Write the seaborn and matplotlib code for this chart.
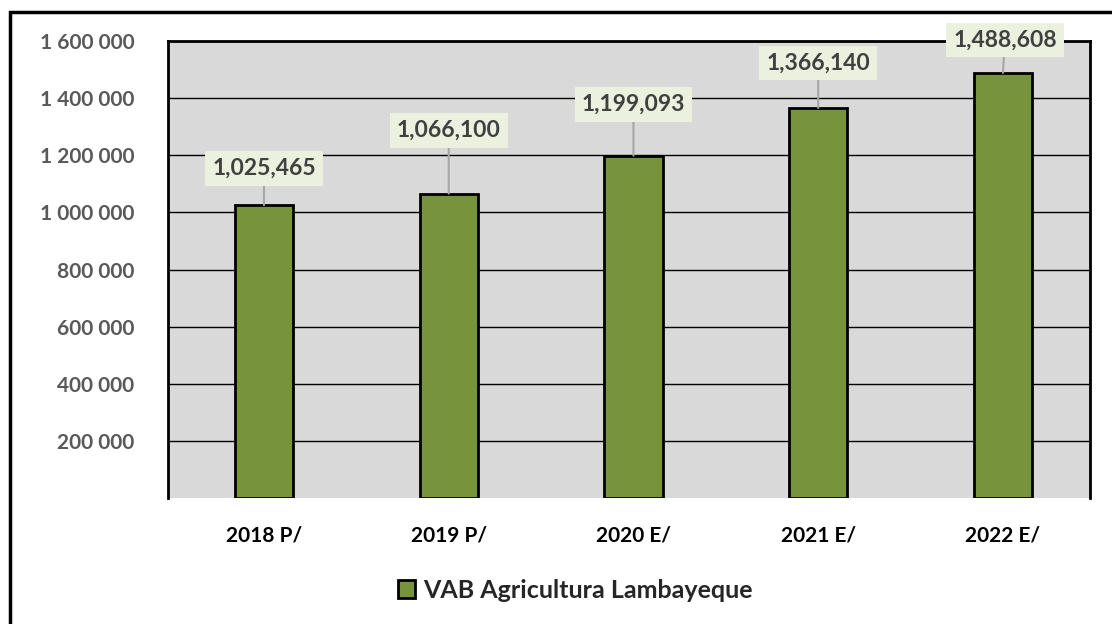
import matplotlib
matplotlib.use("Agg")
import matplotlib.pyplot as plt
import seaborn as sns
import pandas as pd
from matplotlib.patches import Rectangle, Patch

categories = ["2018 P/", "2019 P/", "2020 E/", "2021 E/", "2022 E/"]
values = [1025465, 1066100, 1199093, 1366140, 1488608]
series_name = "VAB Agricultura Lambayeque"
yticks = [200000, 400000, 600000, 800000, 1000000, 1200000, 1400000, 1600000]

sns.set_theme(style="white")
plt.rcParams['font.family'] = ['Lato', 'DejaVu Sans']

fig = plt.figure(figsize=(11.12, 6.24), dpi=100)
ax = fig.add_axes([0.151, 0.202, 0.829, 0.732])
ax.set_facecolor("#D9D9D9")

df = pd.DataFrame({"cat": categories, "val": values})
sns.barplot(data=df, x="cat", y="val", color="#77933C", edgecolor="black",
            linewidth=2, width=0.315, ax=ax, saturation=1, zorder=3)

ax.set_ylim(0, 1600000)
ax.set_xlim(-0.52, 4.47)
ax.set_yticks(yticks)
ax.set_yticklabels([f"{v:,}".replace(",", " ") for v in yticks],
                   fontsize=15, fontweight="bold", color="#595959")
ax.set_xticklabels(categories, fontsize=15, fontweight="bold", color="black")
ax.tick_params(axis="x", pad=20, length=0)
ax.tick_params(axis="y", pad=24, length=0)
ax.set_xlabel("")
ax.set_ylabel("")
ax.yaxis.grid(True, color="black", linewidth=1, zorder=1)
ax.set_axisbelow(True)
for s in ["left", "top", "right"]:
    ax.spines[s].set_color("black")
    ax.spines[s].set_linewidth(2)
ax.spines["bottom"].set_visible(False)

offsets = [(0, 37), (0, 63), (0, 51), (0, 45), (2, 33)]
for i, (v, off) in enumerate(zip(values, offsets)):
    ax.annotate(f"{v:,}", xy=(i, v), xytext=off, textcoords="offset pixels",
                ha="center", va="center", fontsize=16.5, fontweight="bold",
                color="#404040", zorder=5,
                bbox=dict(boxstyle="square,pad=0.3", fc="#EBF1DE", ec="none"),
                arrowprops=dict(arrowstyle="-", color="#A6A6A6", lw=1.5,
                                shrinkA=0, shrinkB=0))

handle = Patch(facecolor="#77933C", edgecolor="black", linewidth=2, label=series_name)
fig.legend(handles=[handle], loc="center", bbox_to_anchor=(0.517, 0.054),
           frameon=False, prop={"size": 18, "weight": "bold"},
           handlelength=0.7, handleheight=0.7, handletextpad=0.3)

fig.patches.append(Rectangle((10 / 1112, -0.1), 1.2, 1 - 12 / 624 + 0.1,
                             transform=fig.transFigure, fill=False,
                             edgecolor="black", linewidth=2.5))

fig.savefig("out.png", dpi=100)
